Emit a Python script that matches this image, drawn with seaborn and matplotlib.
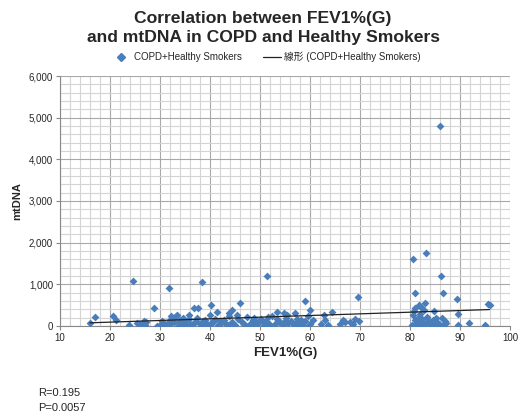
import numpy as np
import pandas as pd
import matplotlib
matplotlib.use("Agg")
import matplotlib.pyplot as plt
from matplotlib.ticker import MultipleLocator, FuncFormatter
from matplotlib.lines import Line2D
import seaborn as sns

sns.set_theme(style="white")
plt.rcParams['font.family'] = ['Liberation Sans', 'Noto Sans CJK JP', 'DejaVu Sans']

# ---- data ----
x_a = [16.0, 16.9, 20.5, 21.1, 23.7, 24.5, 25.3, 25.8, 26.3, 26.7, 26.9, 27.2, 28.7]
y_a = [80, 210, 250, 145, 20, 1075, 80, 40, 60, 110, 30, 90, 425]

x_b = [31.7, 38.3, 36.7, 37.6, 40.2, 41.3, 35.7, 40.0, 43.7, 44.3, 45.3, 32.2, 32.8, 33.4, 33.9,
       29.3, 30.0, 30.8, 31.3, 32.0, 32.7, 33.2, 33.8, 34.3, 34.9, 35.2, 35.8, 36.3, 36.9, 37.4,
       37.9, 38.5, 39.0, 39.4, 39.9, 40.5, 41.0, 41.6, 42.1, 42.7, 43.2, 43.8, 44.4, 44.9, 45.5,
       30.4, 31.9, 33.5, 34.6, 36.0, 37.2, 38.8, 40.2, 41.9, 43.5, 44.6]
y_b = [920, 1065, 425, 430, 500, 330, 265, 265, 305, 385, 265, 240, 200, 260, 150,
       10, 20, 60, 40, 150, 100, 240, 80, 30, 120, 60, 180, 20, 90, 200,
       40, 110, 150, 60, 30, 100, 180, 20, 70, 140, 50, 230, 90, 20, 160,
       120, 40, 10, 200, 50, 130, 20, 80, 110, 30, 60]

x_c = [46.0, 51.3, 53.3, 54.7, 57.0, 59.0, 60.0,
       46.3, 46.8, 47.4, 47.9, 48.5, 49.0, 49.6, 50.1, 50.7, 51.2, 51.8, 52.3, 52.9, 53.4,
       54.0, 54.5, 55.1, 55.6, 56.2, 56.7, 57.3, 57.8, 58.4, 58.9, 59.5, 60.0, 60.6,
       47.1, 48.7, 50.4, 52.0, 53.7, 55.3, 56.9, 58.1, 59.7, 49.3, 51.5, 54.8, 57.5]
y_c = [545, 1207, 330, 305, 305, 608, 385,
       100, 40, 220, 60, 150, 20, 90, 180, 30, 120, 60, 250, 40, 160,
       90, 20, 200, 70, 130, 30, 180, 60, 20, 110, 240, 50, 150,
       10, 200, 120, 30, 90, 260, 40, 140, 20, 60, 210, 100, 70]

x_d = [62.7, 63.0, 64.3, 69.5, 67.0, 68.0, 66.5, 69.0, 69.7, 62.2, 63.5, 66.0, 68.5]
y_d = [265, 145, 345, 690, 100, 100, 150, 180, 120, 60, 30, 40, 60]

x_e = [80.5, 83.2, 86.2, 86.0, 81.0, 86.5, 89.3, 95.5, 95.9, 83.0, 84.7, 89.5, 89.6, 91.7, 95.0,
       80.3, 80.6, 80.9, 81.2, 81.5, 81.8, 82.1, 82.4, 82.7, 83.0, 83.4, 83.8, 84.2, 84.6, 85.0,
       85.4, 85.8, 86.3, 86.7, 87.1, 80.8, 81.4, 82.0, 82.6, 83.6, 84.4, 85.2, 86.0, 86.9,
       81.0, 81.7, 82.1, 82.7]
y_e = [1600, 1745, 1200, 4800, 785, 800, 640, 530, 505, 545, 370, 290, 20, 65, 15,
       20, 260, 140, 60, 200, 100, 30, 180, 80, 40, 220, 120, 20, 150, 60,
       100, 30, 190, 50, 80, 360, 10, 300, 40, 130, 60, 200, 20, 110,
       425, 505, 465, 385]

fev1 = x_a + x_b + x_c + x_d + x_e
mtdna = y_a + y_b + y_c + y_d + y_e
df = pd.DataFrame({"FEV1%(G)": fev1, "mtDNA": mtdna})

title = "Correlation between FEV1%(G)\nand mtDNA in COPD and Healthy Smokers"
series_label = "COPD+Healthy Smokers"
trend_label = "線形 (COPD+Healthy Smokers)"
stats_text = "R=0.195\nP=0.0057"

blue = "#4A7EBB"

fig = plt.figure(figsize=(5.18, 4.17), dpi=100)
ax = fig.add_axes([60/518, 1-326/417, 450/518, 250/417])

sns.scatterplot(data=df, x="FEV1%(G)", y="mtDNA", ax=ax, marker="D", s=16,
                color=blue, edgecolor=blue, linewidth=0, zorder=3)
sns.regplot(data=df, x="FEV1%(G)", y="mtDNA", ax=ax, scatter=False, ci=None,
            truncate=True, line_kws=dict(color="#222222", lw=0.9, zorder=4))

ax.set_xlim(10, 100)
ax.set_ylim(0, 6000)
ax.xaxis.set_major_locator(MultipleLocator(10))
ax.xaxis.set_minor_locator(MultipleLocator(2))
ax.yaxis.set_major_locator(MultipleLocator(1000))
ax.yaxis.set_minor_locator(MultipleLocator(200))
ax.yaxis.set_major_formatter(FuncFormatter(lambda v, p: f"{int(v):,}"))
ax.grid(which="major", color="#a8a8a8", lw=0.8, zorder=0)
ax.grid(which="minor", color="#d4d4d4", lw=0.8, zorder=0)
ax.set_axisbelow(True)
for s in ["top", "right"]:
    ax.spines[s].set_visible(False)
ax.spines["left"].set_color("#888888")
ax.spines["bottom"].set_color("#888888")
ax.spines["left"].set_linewidth(0.8)
ax.spines["bottom"].set_linewidth(0.8)
ax.tick_params(axis="both", which="major", length=3, width=0.8, color="#888888",
               labelsize=7, pad=2, left=True, bottom=True)
ax.tick_params(axis="both", which="minor", length=0)

ax.set_xlabel("FEV1%(G)", fontsize=9.5, fontweight="bold", labelpad=3)
ax.set_ylabel("mtDNA", fontsize=8, fontweight="bold", labelpad=5)

fig.text(0.508, 1-28/417, title, ha="center", va="center", fontsize=12.6,
         fontweight="bold", linespacing=1.38)

handles = [Line2D([], [], marker="D", color=blue, lw=0, markersize=4),
           Line2D([], [], color="#222222", lw=0.9)]
fig.legend(handles, [series_label, trend_label], loc="center",
           bbox_to_anchor=(0.515, 1-57/417), ncol=2, frameon=False, fontsize=7,
           handlelength=1.8, columnspacing=2.2, handletextpad=0.4)

fig.text(38/518, 1-388/417, stats_text, ha="left", va="top", fontsize=8,
         linespacing=1.6)

fig.savefig("out.png", dpi=100)
